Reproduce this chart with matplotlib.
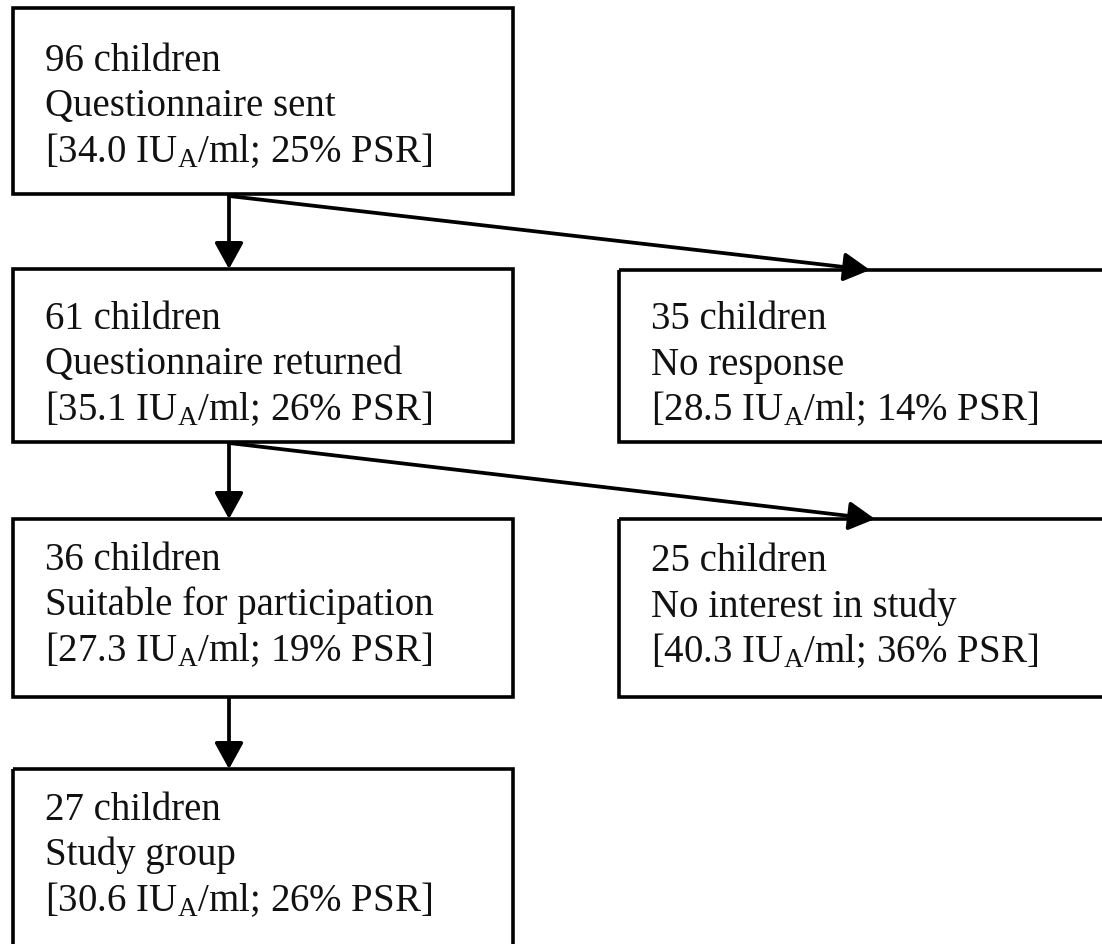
import matplotlib
matplotlib.use("Agg")
import matplotlib.pyplot as plt
from matplotlib.patches import Rectangle

plt.rcParams['font.family'] = ['Liberation Serif', 'DejaVu Serif']
plt.rcParams['mathtext.fontset'] = 'custom'
plt.rcParams['mathtext.rm'] = 'Liberation Serif'
plt.rcParams['mathtext.it'] = 'Liberation Serif:italic'
plt.rcParams['mathtext.bf'] = 'Liberation Serif:bold'

# ---- data ----
counts = [96, 61, 35, 36, 25, 27]
descriptions = ["Questionnaire sent", "Questionnaire returned", "No response",
                "Suitable for participation", "No interest in study", "Study group"]
iu_values = [34.0, 35.1, 28.5, 27.3, 40.3, 30.6]
psr_pct = [25, 26, 14, 19, 36, 26]

# ---- layout (pixel coordinates) ----
box_x = [13, 13, 619, 13, 619, 13]
box_y = [8, 269, 270, 519, 519, 769]
box_w = [500, 500, 500, 500, 500, 500]
box_h = [186, 173, 172, 178, 178, 190]
text_off = [63, 60, 59, 51, 52, 51]
line_gap = 45.5
pad_x = 32

W, H = 1102, 944
fig = plt.figure(figsize=(W / 100, H / 100), dpi=100)
ax = fig.add_axes([0, 0, 1, 1])
ax.set_xlim(0, W)
ax.set_ylim(H, 0)
ax.axis('off')

FS = 28
for i in range(len(counts)):
    ax.add_patch(Rectangle((box_x[i], box_y[i]), box_w[i], box_h[i],
                           fill=False, edgecolor='black', linewidth=2.6))
    lines = [f"{counts[i]} children",
             descriptions[i],
             f"[{iu_values[i]:.1f} IU$_{{\\mathrm{{A}}}}$/ml; {psr_pct[i]}% PSR]"]
    for k, s in enumerate(lines):
        ax.text(box_x[i] + pad_x, box_y[i] + text_off[i] + k * line_gap, s,
                fontsize=FS, va='baseline', ha='left', color='#111111')

arrow_kw = dict(arrowstyle='-|>,head_length=1.0,head_width=0.55',
                color='black', linewidth=2.7, shrinkA=0, shrinkB=0,
                mutation_scale=16)

connections = [
    ((229, 196), (229, 269)),
    ((229, 196), (870, 270)),
    ((229, 443), (229, 519)),
    ((229, 443), (875, 519)),
    ((229, 699), (229, 769)),
]
for (x0, y0), (x1, y1) in connections:
    ax.annotate("", xy=(x1, y1), xytext=(x0, y0), arrowprops=arrow_kw)

fig.savefig("out.png", dpi=100, facecolor='white')
